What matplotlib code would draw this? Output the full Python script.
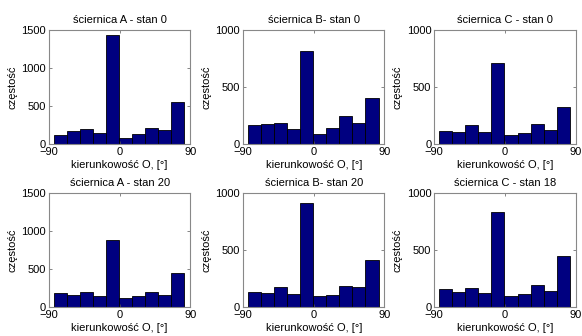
import numpy as np
import matplotlib
matplotlib.use("Agg")
import matplotlib.pyplot as plt

plt.rcParams['font.family'] = ['Liberation Sans', 'DejaVu Sans']
plt.rcParams['font.size'] = 8

# histogram bins (10 bins, MATLAB hist style)
edges = np.linspace(-83.5, 82.5, 11)

titles = ["ściernica A - stan 0", "ściernica B- stan 0", "ściernica C - stan 0",
          "ściernica A - stan 20", "ściernica B- stan 20", "ściernica C - stan 18"]

counts_A0 = [127, 175, 206, 149, 1438, 83, 136, 215, 184, 557]
counts_B0 = [165, 174, 182, 129, 821, 88, 144, 250, 182, 403]
counts_C0 = [118, 109, 168, 103, 712, 79, 100, 174, 124, 326]
counts_A20 = [184, 162, 202, 149, 882, 123, 149, 193, 158, 443]
counts_B20 = [129, 123, 173, 114, 912, 94, 102, 181, 173, 415]
counts_C18 = [161, 129, 170, 120, 830, 94, 114, 196, 140, 444]

all_counts = [counts_A0, counts_B0, counts_C0, counts_A20, counts_B20, counts_C18]
ymax = [1500, 1000, 1000, 1500, 1000, 1000]

xlab = "kierunkowość O, [°]"
ylab = "częstość"

fig = plt.figure(figsize=(5.82, 3.36), dpi=100)

lefts = [0.084, 0.4175, 0.746]
bottoms = [0.571, 0.0863]
w, h = 0.243, 0.339

for i in range(6):
    r, c = i // 3, i % 3
    ax = fig.add_axes([lefts[c], bottoms[r], w, h])
    cnt = all_counts[i]
    ax.bar(edges[:-1], cnt, width=np.diff(edges), align='edge',
           color='#000080', edgecolor='black', linewidth=0.6)
    ax.set_xlim(-90, 90)
    ax.set_ylim(0, ymax[i])
    ax.set_xticks([-90, 0, 90])
    ax.set_yticks(np.arange(0, ymax[i] + 1, 500))
    ax.tick_params(direction='in', length=2.5, width=0.5, pad=2,
                   top=True, right=True, colors='#555555', labelcolor='black')
    for s in ax.spines.values():
        s.set_color('#888888')
        s.set_linewidth(0.8)
    ax.set_title(titles[i], fontsize=8, pad=5)
    ax.set_xlabel(xlab, fontsize=8, labelpad=2)
    ax.set_ylabel(ylab, fontsize=8, labelpad=3)

fig.savefig("out.png", dpi=100)
